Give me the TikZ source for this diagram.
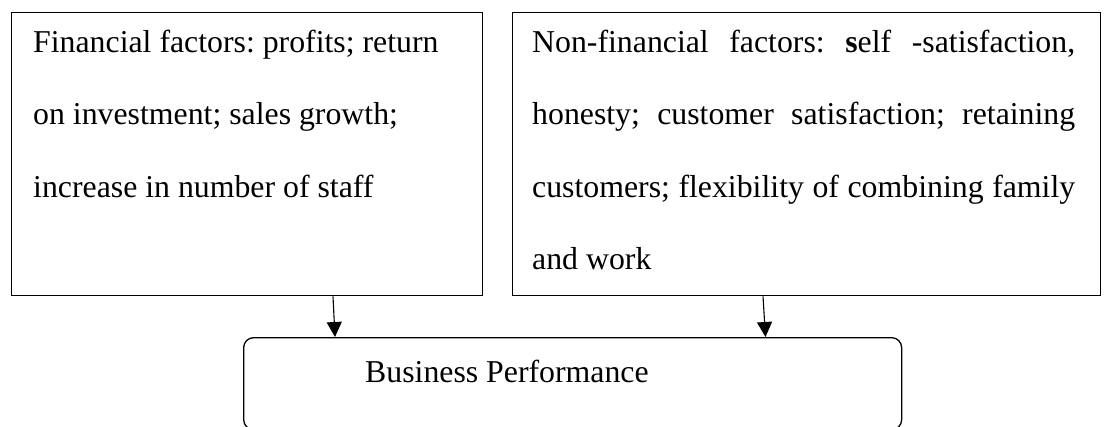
\documentclass[tikz,border=0pt]{standalone}
\usepackage{fontspec}
\setmainfont{Liberation Serif}
\usetikzlibrary{arrows.meta}
\frenchspacing
\begin{document}
\begin{tikzpicture}[x=1pt,y=-1pt,
  box/.style={draw, line width=1.3pt, inner sep=0pt},
  txt/.style={inner sep=0pt, anchor=base west, font=\fontsize{31.8}{72.5}\selectfont},
  arr/.style={line width=1.1pt, -{Triangle[width=15pt,length=15pt]}}]
\useasboundingbox (0,0) rectangle (1106,426);
% boxes
\node[box, anchor=north west, minimum width=471pt, minimum height=283pt] (fin) at (11,12) {};
\node[box, anchor=north west, minimum width=588pt, minimum height=283pt] (nonfin) at (512,12) {};
\node[box, rounded corners=10pt, anchor=north west, minimum width=658pt, minimum height=92pt] (perf) at (243,337) {};
% texts
\node[txt] (fintxt) at (33,52) {\parbox[t]{440pt}{\raggedright Financial factors: profits; return\\on investment; sales growth;\\increase in number of staff}};
\node[txt] (nonfintxt) at (532,52) {\parbox[t]{543pt}{\makebox[543pt][s]{Non-financial factors: \textbf{s}elf -satisfaction,}\\\makebox[543pt][s]{honesty; customer satisfaction; retaining}\\\makebox[543pt][s]{customers; flexibility of combining family}\\and work}};
\node[txt] (perftxt) at (365,382) {Business Performance};
% connectors
\coordinate (x1a) at (333,0);
\coordinate (x1b) at (335,0);
\coordinate (x2a) at (763,0);
\coordinate (x2b) at (765.5,0);
\draw[arr] (fin.south -| x1a) -- (perf.north -| x1b);
\draw[arr] (nonfin.south -| x2a) -- (perf.north -| x2b);
\end{tikzpicture}
\end{document}
